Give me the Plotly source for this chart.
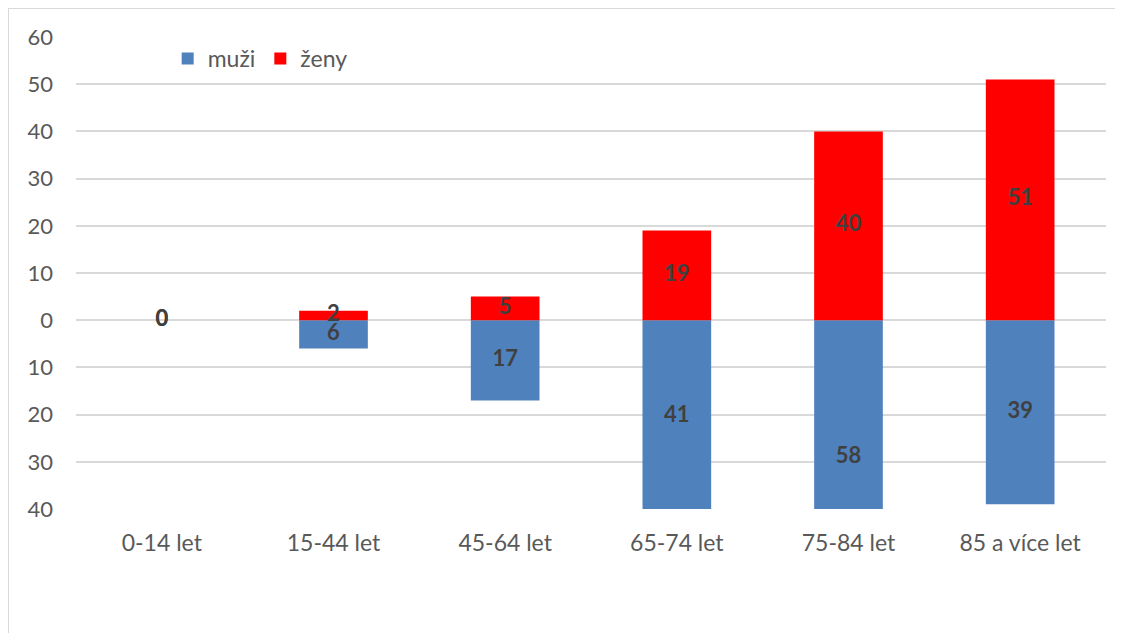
import plotly.graph_objects as go

categories = ["0-14 let", "15-44 let", "45-64 let", "65-74 let", "75-84 let", "85 a více let"]
muzi = [0, 6, 17, 41, 58, 39]
zeny = [0, 2, 5, 19, 40, 51]
tick_vals = [-40, -30, -20, -10, 0, 10, 20, 30, 40, 50, 60]
tick_text = [str(abs(v)) for v in tick_vals]

FONT = "Lato"
BLUE = "#4F81BD"
RED = "#FF0000"

fig = go.Figure()
fig.add_trace(go.Bar(x=categories, y=[-v for v in muzi], name="muži",
                     marker=dict(color=BLUE, line=dict(width=0)),
                     width=0.4, hoverinfo="skip"))
fig.add_trace(go.Bar(x=categories, y=zeny, name="ženy",
                     marker=dict(color=RED, line=dict(width=0)),
                     width=0.4, hoverinfo="skip"))
fig.add_trace(go.Scatter(x=categories, y=[-v / 2 for v in muzi], mode="text",
                         text=[str(v) for v in muzi], showlegend=False, cliponaxis=False,
                         hoverinfo="skip",
                         textfont=dict(family=FONT, size=22, color="#404040", weight="bold")))
fig.add_trace(go.Scatter(x=categories, y=[v / 2 for v in zeny], mode="text",
                         text=[str(v) for v in zeny], showlegend=False, cliponaxis=False,
                         hoverinfo="skip",
                         textfont=dict(family=FONT, size=22, color="#404040", weight="bold")))

fig.update_layout(
    width=1123, height=633,
    margin=dict(l=68, r=25, t=29, b=132),
    paper_bgcolor="white", plot_bgcolor="white",
    barmode="relative",
    font=dict(family=FONT, size=22, color="#595959"),
    showlegend=True,
    legend=dict(orientation="h", x=0.089, y=1.0, yanchor="top", xanchor="left",
                font=dict(family=FONT, size=23, color="#595959"),
                bgcolor="rgba(0,0,0,0)", itemwidth=30, traceorder="normal"),
    xaxis=dict(showgrid=False, showline=False, zeroline=False, ticks="",
               ticklabelstandoff=18,
               tickfont=dict(family=FONT, size=23, color="#595959")),
    yaxis=dict(range=[-40, 60], tickvals=tick_vals, ticktext=tick_text,
               showgrid=True, gridcolor="#d9d9d9", gridwidth=1.5,
               zeroline=True, zerolinecolor="#d9d9d9", zerolinewidth=1.5,
               showline=False, ticks="", ticklen=0, ticklabelstandoff=22,
               tickfont=dict(family=FONT, size=22, color="#595959")),
    shapes=[dict(type="rect", xref="paper", yref="paper",
                 x0=(0 - 68) / 1030, x1=1.1, y0=-0.4, y1=(501 - 0) / 472,
                 line=dict(color="#d9d9d9", width=2), layer="below")],
)

fig.write_html("out.html")
